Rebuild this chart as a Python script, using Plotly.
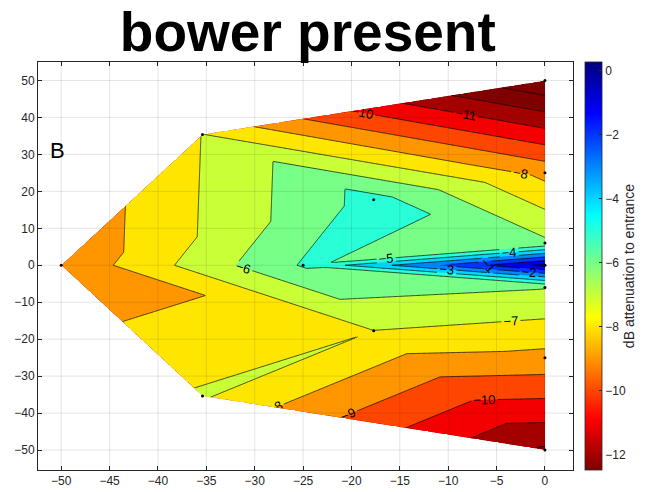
import numpy as np
import plotly.graph_objects as go

# ---- data: measurement positions and attenuation (dB re entrance) ----
pos_x = [-50.0, -35.4, 0.0, -17.7, 0.0, 0.0, 0.0, 0.0, -17.7, 0.0, 0.0, -35.4, -25.0]
pos_y = [0.0, 35.4, 50.0, 17.7, 25.0, 6.0, 0.0, -6.0, -17.7, -25.0, -50.0, -35.4, 0.0]
atten_db = [-8.85, -6.98, -13.9, -4.6, -8.3, -5.8, 0.28, -5.95, -7.01, -8.3, -12.15, -6.88, -4.9]
# triangulation used for linear interpolation (indices into the arrays above)
triangles = [(0, 1, 3), (0, 3, 12), (1, 3, 4), (1, 4, 2), (3, 4, 5), (3, 5, 12),
             (12, 5, 6), (12, 6, 7), (12, 7, 8), (8, 7, 9), (8, 9, 10), (11, 8, 10),
             (0, 11, 8), (0, 8, 12)]
hull_top = [0, 1, 2]
hull_bottom = [0, 11, 10]
level_start, level_end, level_step = -14, 0, 1
x_ticks = list(range(-50, 1, 5))
y_ticks = list(range(-50, 51, 10))
cbar_ticks = list(range(-12, 1, 2))
clim = [-12.47, 0.28]
title_text = "bower present"
panel_label = "B"
cbar_title = "dB attenuation to entrance"

px = np.array(pos_x); py = np.array(pos_y); pv = np.array(atten_db)

# ---- linear interpolation on the triangulation ----
gx = np.linspace(px.min(), px.max(), 401)
gy = np.linspace(py.min(), py.max(), 601)
XX, YY = np.meshgrid(gx, gy)
Z = np.full(XX.shape, np.nan)
for i, j, k in triangles:
    x1, y1, x2, y2, x3, y3 = px[i], py[i], px[j], py[j], px[k], py[k]
    det = (y2 - y3) * (x1 - x3) + (x3 - x2) * (y1 - y3)
    l1 = ((y2 - y3) * (XX - x3) + (x3 - x2) * (YY - y3)) / det
    l2 = ((y3 - y1) * (XX - x3) + (x1 - x3) * (YY - y3)) / det
    l3 = 1 - l1 - l2
    m = (l1 >= -1e-9) & (l2 >= -1e-9) & (l3 >= -1e-9)
    Z[m] = (l1 * pv[i] + l2 * pv[j] + l3 * pv[k])[m]


def jet(t):
    t = min(max(t, 0.0), 1.0)
    r = min(max(1.5 - abs(4 * t - 3), 0), 1)
    g = min(max(1.5 - abs(4 * t - 2), 0), 1)
    b = min(max(1.5 - abs(4 * t - 1), 0), 1)
    return "rgb(%d,%d,%d)" % (round(r * 255), round(g * 255), round(b * 255))


def mcolor(v):
    # flipped jet: dark red at clim[0], dark blue at clim[1]
    return jet(1 - (v - clim[0]) / (clim[1] - clim[0]))


# fill colours: each band coloured by its lower level (MATLAB contourf style)
nc = int((level_end - level_start) / level_step) + 1
fill_scale = []
for kk in range(nc + 1):
    lower = level_start + (kk - 1) * level_step
    fill_scale.append([kk / nc, mcolor(lower)])

cont_scale = [[s / 40, mcolor(clim[1] - (clim[1] - clim[0]) * (1 - s / 40))] for s in range(41)]

FONT = "Liberation Sans"
DARK = "rgb(38,38,38)"

fig = go.Figure()
fig.add_trace(go.Contour(
    x=gx, y=gy, z=Z, autocontour=False,
    contours=dict(start=level_start, end=level_end, size=level_step, coloring="fill",
                  showlabels=True, labelfont=dict(size=13, color="black", family=FONT)),
    colorscale=fill_scale, showscale=False,
    line=dict(color="black", width=0.7), hoverinfo="skip"))

# white masks outside the measured hull
for hull, sgn in ((hull_top, 1), (hull_bottom, -1)):
    hx = [px[hull[0]] - 2] + [px[h] for h in hull] + [px[hull[-1]] + 1, px[hull[0]] - 2]
    hy = [py[hull[0]]] + [py[h] for h in hull] + [py[hull[-1]] + sgn * 3, py[hull[-1]] + sgn * 3]
    fig.add_trace(go.Scatter(x=hx, y=hy, mode="lines", fill="toself", fillcolor="white",
                             line=dict(width=0, color="white"), hoverinfo="skip", showlegend=False))

# measurement points
fig.add_trace(go.Scatter(x=pos_x, y=pos_y, mode="markers",
                         marker=dict(size=3, color="black"), hoverinfo="skip", showlegend=False))

# colorbar carrier
fig.add_trace(go.Scatter(
    x=[pos_x[0], pos_x[0]], y=[pos_y[0], pos_y[0]], mode="markers", hoverinfo="skip", showlegend=False,
    marker=dict(size=1, opacity=0, color=clim, cmin=clim[0], cmax=clim[1], colorscale=cont_scale,
                showscale=True,
                colorbar=dict(x=1.022, xanchor="left", xpad=0, ypad=0, y=0.5, yanchor="middle",
                              len=1.0, lenmode="fraction", thickness=17,
                              outlinecolor=DARK, outlinewidth=0.8,
                              tickvals=cbar_ticks, ticks="inside", ticklen=3, tickcolor=DARK,
                              tickfont=dict(size=12, color=DARK, family=FONT),
                              title=dict(text=cbar_title, side="right",
                                         font=dict(size=14, color=DARK, family=FONT))))))

# grid drawn above the data (MATLAB style)
gridc = "rgba(38,38,38,0.15)"
xr = [-52.4, 2.9]
yr = [-55.4, 55.0]
for xv in x_ticks:
    fig.add_shape(type="line", x0=xv, x1=xv, y0=yr[0], y1=yr[1], xref="x", yref="y",
                  line=dict(color=gridc, width=0.8), layer="above")
for yv in y_ticks:
    fig.add_shape(type="line", x0=xr[0], x1=xr[1], y0=yv, y1=yv, xref="x", yref="y",
                  line=dict(color=gridc, width=0.8), layer="above")

fig.add_annotation(x=-51.4, y=31, xref="x", yref="y", text=panel_label, showarrow=False,
                   xanchor="left", yanchor="middle", font=dict(size=22, color="black", family=FONT))

axis_common = dict(showgrid=False, zeroline=False, showline=True, mirror="ticks", linecolor=DARK,
                   linewidth=0.8, ticks="inside", ticklen=4, tickcolor=DARK, automargin=False,
                   tickfont=dict(size=12, color=DARK, family=FONT))
fig.update_layout(
    width=648, height=492, paper_bgcolor="white", plot_bgcolor="white",
    margin=dict(l=38, r=75, t=62, b=22, autoexpand=False),
    title=dict(text="<b>%s</b>" % title_text, x=0.475, xanchor="center", xref="container",
               y=1 - 32 / 492, yref="container", yanchor="middle",
               font=dict(size=55, color="black", family=FONT)),
    xaxis=dict(range=xr, tickvals=x_ticks, **axis_common),
    yaxis=dict(range=yr, tickvals=y_ticks, **axis_common),
    showlegend=False)

fig.write_html("out.html", config={"displayModeBar": False},
               post_script="document.body.style.margin='0px';document.body.style.padding='0px';")
